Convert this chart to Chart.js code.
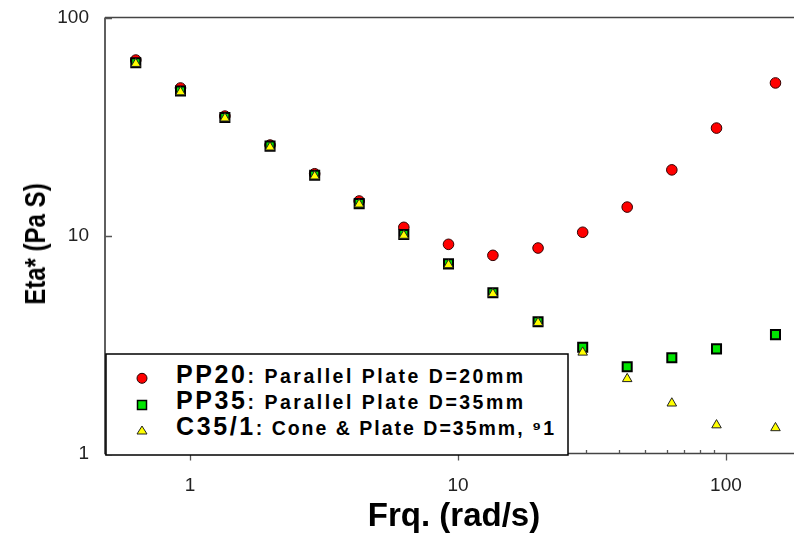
<!DOCTYPE html>
<html>
<head>
<meta charset="utf-8">
<title>Eta* vs Frq.</title>
<script src="https://cdn.jsdelivr.net/npm/chart.js@4.4.1/dist/chart.umd.min.js"></script>
<style>
    html, body { margin: 0; padding: 0; background: #fff; }
    #wrap { position: relative; width: 794px; height: 533px; overflow: hidden; }
    #wrap canvas { position: absolute; left: 0; top: 0; }
    .overlay { position: absolute; left: 0; top: 0; pointer-events: none; }
    .lbl { position: absolute; white-space: nowrap; font-family: 'Liberation Sans', Arial, sans-serif; font-weight: bold; color: #000; }
    .row { left: 176px; font-size: 25px; line-height: 25px; }
    .row .big { letter-spacing: 2.6px; }
    .row .small { font-size: 19.5px; line-height: 19px; letter-spacing: 2.5px; }
    .row .small.tight { letter-spacing: 2px; }
    #x-title { left: 454px; top: 498px; font-size: 33px; line-height: 33px; transform: translateX(-50%); }
    #y-title { left: 35px; top: 244px; font-size: 30px; line-height: 30px; transform: translate(-50%, -50%) rotate(-90deg) scaleX(0.8); }
</style>
</head>
<body>
<div id="wrap">
    <canvas id="etaChart" width="794" height="533"></canvas>
    <svg class="overlay" width="794" height="533">
        <rect x="106" y="354" width="462" height="101" fill="#fff" stroke="#000" stroke-width="1.5"></rect>
        <circle cx="142" cy="378.3" r="5" fill="#ff0000" stroke="#200" stroke-width="1"></circle>
        <rect x="137.5" y="400.5" width="9" height="9" fill="#00e600" stroke="#000" stroke-width="1.5"></rect>
        <polygon points="142,426 147,434 137,434" fill="#ffff00" stroke="#222" stroke-width="1"></polygon>
    </svg>
    <div class="lbl row" style="top: 361.6px"><span class="big">PP20</span><span class="small">: Parallel Plate D=20mm</span></div>
    <div class="lbl row" style="top: 388.2px"><span class="big">PP35</span><span class="small">: Parallel Plate D=35mm</span></div>
    <div class="lbl row" style="top: 413.9px"><span class="big">C35/1</span><span class="small tight">: Cone &amp; Plate D=35mm, ⁹1</span></div>
    <div class="lbl" id="x-title">Frq. (rad/s)</div>
    <div class="lbl" id="y-title">Eta* (Pa S)</div>
</div>
<script>
// frequency (rad/s)
const frq = [0.628, 0.922, 1.35, 1.99, 2.92, 4.28, 6.28, 9.22, 13.5, 19.9, 29.2, 42.8, 62.8, 92.2, 153];
// Eta* (Pa S)
const pp20 = [63.8, 47.5, 35.3, 26.0, 19.2, 14.4, 10.9, 9.11, 8.11, 8.76, 10.35, 13.5, 20.0, 31.1, 50.1];
const pp35 = [62.0, 46.0, 34.8, 25.7, 18.9, 14.0, 10.1, 7.41, 5.46, 4.02, 3.07, 2.50, 2.75, 3.02, 3.51];
const c35 = [61.4, 45.5, 34.5, 25.4, 18.7, 13.9, 10.0, 7.33, 5.40, 3.98, 2.91, 2.20, 1.70, 1.35, 1.31];

const xTicks = [1, 10, 100];
const yTicks = [1, 10, 100];

const toPoints = (ys) => frq.map((x, i) => ({ x: x, y: ys[i] }));
const isDecade = (v) => Math.abs(Math.log10(v) - Math.round(Math.log10(v))) < 1e-9;

// Рамка, засечки (большие наружу по X, малые внутрь)
const axisPlugin = {
    id: 'axisPlugin',
    afterDraw(chart) {
        const { ctx, chartArea: area, scales: { x, y } } = chart;
        ctx.save();
        ctx.strokeStyle = '#444';
        ctx.lineWidth = 1.7;
        ctx.beginPath();
        ctx.moveTo(area.left, area.top);
        ctx.lineTo(area.right, area.top);
        ctx.moveTo(area.left, area.top);
        ctx.lineTo(area.left, area.bottom);
        ctx.lineTo(area.right, area.bottom);
        ctx.stroke();

        ctx.lineWidth = 1.3;
        ctx.strokeStyle = '#555';
        ctx.beginPath();
        for (let exp = -1; exp <= 2; exp++) {
            for (let k = 1; k <= 9; k++) {
                const v = k * Math.pow(10, exp);
                if (v < x.min || v > x.max) continue;
                const px = Math.round(x.getPixelForValue(v)) + 0.5;
                if (k === 1) {
                    ctx.moveTo(px, area.bottom);
                    ctx.lineTo(px, area.bottom + 7);
                } else {
                    ctx.moveTo(px, area.bottom);
                    ctx.lineTo(px, area.bottom - 3.5);
                }
            }
        }
        yTicks.forEach(v => {
            const py = Math.round(y.getPixelForValue(v)) + 0.5;
            ctx.moveTo(area.left, py);
            ctx.lineTo(area.left + 7, py);
        });
        ctx.stroke();
        ctx.restore();
    }
};

const tickFont = { family: "'Liberation Sans', Arial, sans-serif", size: 19 };

const etaChart = new Chart(document.getElementById('etaChart'), {
    type: 'scatter',
    data: {
        datasets: [
            {
                label: 'PP20',
                data: toPoints(pp20),
                pointStyle: 'circle',
                pointRadius: 5.3,
                pointBorderWidth: 1,
                pointBackgroundColor: '#ff0000',
                pointBorderColor: '#300',
                order: 3,
            },
            {
                label: 'PP35',
                data: toPoints(pp35),
                pointStyle: 'rect',
                pointRadius: 6.4,
                pointBorderWidth: 2,
                pointBackgroundColor: '#00e600',
                pointBorderColor: '#000',
                order: 2,
            },
            {
                label: 'C35/1',
                data: toPoints(c35),
                pointStyle: 'triangle',
                pointRadius: 5.5,
                pointBorderWidth: 1,
                pointBackgroundColor: '#ffff00',
                pointBorderColor: '#222',
                order: 1,
            }
        ]
    },
    options: {
        responsive: false,
        animation: false,
        events: [],
        devicePixelRatio: 1,
        layout: {
            autoPadding: false,
            padding: { top: 17.5, right: 0, left: 0, bottom: 0 },
        },
        plugins: {
            legend: { display: false },
            tooltip: { enabled: false },
        },
        scales: {
            x: {
                type: 'logarithmic',
                min: 0.482,
                max: 179.4,
                grid: { display: false },
                border: { display: false },
                ticks: {
                    autoSkip: false,
                    maxRotation: 0,
                    padding: 13,
                    color: '#222',
                    font: tickFont,
                    callback: (v) => (isDecade(v) && xTicks.includes(Math.round(v))) ? String(Math.round(v)) : '',
                },
                afterFit: (scale) => {
                    scale.height = 79.5;
                    scale.paddingLeft = 0;
                    scale.paddingRight = 0;
                },
            },
            y: {
                type: 'logarithmic',
                min: 1,
                max: 100,
                grid: { display: false },
                border: { display: false },
                ticks: {
                    autoSkip: false,
                    padding: 8,
                    color: '#222',
                    font: tickFont,
                    callback: (v) => (isDecade(v) && yTicks.includes(Math.round(v))) ? String(Math.round(v)) : '',
                },
                afterFit: (scale) => {
                    scale.width = 105;
                    scale.paddingTop = 0;
                    scale.paddingBottom = 0;
                },
            }
        }
    },
    plugins: [axisPlugin],
});
</script>
</body>
</html>
